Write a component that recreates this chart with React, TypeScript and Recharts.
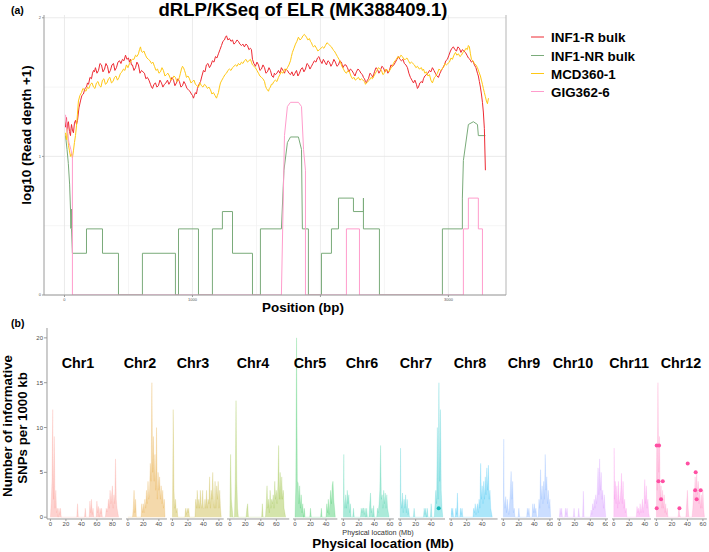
import React from "react";
import {
  LineChart,
  Line,
  XAxis,
  YAxis,
  CartesianGrid,
  ReferenceLine,
  ComposedChart,
  Area,
  Scatter,
} from "recharts";

// ---------------- Panel (a) data: [position bp, log10(depth+1)] ----------------
const infR: number[][] = [
  [8,1.21],[12,1.25],[16,1.28],[20,1.2],[23,1.17],[27,1.24],[31,1.25],[39,1.18],[47,1.15],[51,1.2],[55,1.23],[62,1.19],[70,1.17],[78,1.24],[86,1.26],[94,1.23],[102,1.26],[113,1.35],[125,1.4],[136,1.44],[148,1.45],[160,1.49],[172,1.5],[180,1.53],[188,1.52],[199,1.57],[211,1.56],[219,1.6],[227,1.62],[234,1.61],[242,1.64],[254,1.6],[266,1.62],[277,1.67],[289,1.66],[301,1.61],[313,1.63],[324,1.67],[336,1.65],[347,1.6],[359,1.62],[371,1.66],[383,1.67],[394,1.62],[406,1.64],[418,1.68],[430,1.69],[441,1.67],[453,1.7],[465,1.69],[477,1.73],[488,1.7],[500,1.71],[508,1.68],[516,1.7],[523,1.66],[531,1.66],[543,1.62],[555,1.64],[566,1.68],[578,1.66],[590,1.6],[602,1.62],[613,1.61],[625,1.6],[636,1.56],[648,1.57],[660,1.55],[672,1.52],[680,1.5],[688,1.49],[699,1.52],[711,1.53],[722,1.5],[734,1.51],[746,1.55],[758,1.53],[769,1.5],[781,1.52],[793,1.53],[805,1.55],[816,1.52],[828,1.54],[840,1.57],[852,1.55],[863,1.51],[875,1.53],[887,1.56],[898,1.54],[910,1.5],[922,1.51],[933,1.54],[945,1.52],[957,1.49],[969,1.48],[980,1.47],[992,1.45],[1000,1.44],[1008,1.42],[1015,1.44],[1023,1.46],[1031,1.45],[1039,1.49],[1051,1.52],[1063,1.54],[1074,1.58],[1086,1.62],[1098,1.61],[1109,1.66],[1121,1.67],[1133,1.64],[1145,1.66],[1156,1.69],[1168,1.68],[1180,1.72],[1191,1.71],[1203,1.74],[1215,1.77],[1227,1.8],[1238,1.83],[1250,1.84],[1258,1.86],[1266,1.87],[1277,1.84],[1289,1.85],[1301,1.83],[1313,1.84],[1324,1.81],[1336,1.82],[1348,1.84],[1359,1.83],[1371,1.81],[1383,1.8],[1394,1.81],[1406,1.79],[1418,1.81],[1430,1.8],[1441,1.77],[1453,1.78],[1461,1.77],[1469,1.7],[1480,1.67],[1492,1.65],[1504,1.68],[1516,1.66],[1527,1.62],[1539,1.63],[1551,1.66],[1563,1.64],[1574,1.6],[1586,1.61],[1598,1.64],[1609,1.62],[1621,1.58],[1633,1.57],[1640,1.6],[1648,1.59],[1660,1.6],[1672,1.62],[1683,1.6],[1695,1.64],[1707,1.62],[1719,1.6],[1730,1.63],[1742,1.62],[1754,1.6],[1766,1.59],[1777,1.61],[1789,1.58],[1801,1.6],[1813,1.62],[1824,1.58],[1836,1.6],[1848,1.63],[1859,1.64],[1871,1.61],[1883,1.63],[1895,1.67],[1906,1.66],[1918,1.63],[1930,1.65],[1941,1.67],[1953,1.69],[1965,1.68],[1977,1.71],[1988,1.72],[2000,1.69],[2012,1.67],[2023,1.7],[2035,1.68],[2047,1.66],[2059,1.69],[2070,1.68],[2082,1.65],[2094,1.67],[2105,1.7],[2117,1.68],[2129,1.65],[2141,1.66],[2152,1.69],[2164,1.68],[2176,1.64],[2188,1.66],[2199,1.66],[2211,1.64],[2223,1.61],[2234,1.63],[2246,1.62],[2258,1.6],[2270,1.58],[2281,1.61],[2293,1.63],[2305,1.62],[2316,1.6],[2328,1.59],[2336,1.57],[2344,1.56],[2352,1.54],[2359,1.53],[2367,1.55],[2375,1.56],[2387,1.6],[2398,1.59],[2410,1.57],[2422,1.61],[2434,1.64],[2445,1.63],[2457,1.6],[2469,1.62],[2480,1.65],[2492,1.64],[2504,1.61],[2516,1.63],[2527,1.6],[2539,1.62],[2551,1.66],[2563,1.65],[2574,1.66],[2586,1.68],[2598,1.7],[2609,1.72],[2621,1.7],[2633,1.69],[2645,1.7],[2656,1.67],[2668,1.66],[2680,1.64],[2691,1.6],[2703,1.57],[2715,1.55],[2727,1.53],[2738,1.55],[2750,1.52],[2758,1.49],[2766,1.5],[2777,1.53],[2789,1.54],[2797,1.53],[2805,1.56],[2816,1.58],[2828,1.59],[2840,1.6],[2852,1.62],[2863,1.61],[2875,1.64],[2887,1.62],[2898,1.6],[2910,1.58],[2922,1.57],[2934,1.6],[2945,1.62],[2957,1.64],[2969,1.66],[2980,1.69],[2992,1.7],[3004,1.73],[3016,1.76],[3027,1.78],[3039,1.79],[3051,1.77],[3063,1.76],[3074,1.79],[3086,1.78],[3098,1.75],[3109,1.77],[3121,1.76],[3133,1.75],[3145,1.73],[3156,1.71],[3168,1.7],[3180,1.68],[3191,1.69],[3203,1.66],[3215,1.64],[3227,1.6],[3234,1.58],[3242,1.54],[3250,1.5],[3258,1.45],[3266,1.39],[3273,1.32],[3281,1.2],[3289,0.9],
];

const infNR: number[][] = [
  [8, 1.15], [20, 1.05], [30, 0.95], [40, 0.8], [47, 0.62], [50, 0.48], [55, 0.62], [55, 0.48], [62, 0.301],
  [172, 0.301], [172, 0.477], [297, 0.477], [297, 0.301], [422, 0.301], [422, 0], [609, 0], [609, 0.301],
  [867, 0.301], [867, 0], [891, 0], [891, 0.477], [1047, 0.477], [1047, 0], [1156, 0], [1156, 0.477],
  [1234, 0.477], [1234, 0.602], [1313, 0.602], [1313, 0.301], [1469, 0.301], [1469, 0], [1531, 0],
  [1531, 0.477], [1695, 0.477], [1715, 0.9], [1742, 1.1], [1766, 1.14], [1828, 1.14], [1852, 1.05],
  [1859, 0.477], [1906, 0.477], [1906, 0], [2008, 0], [2008, 0.301], [2086, 0.301], [2086, 0.477],
  [2141, 0.477], [2141, 0.699], [2258, 0.699], [2258, 0.602], [2336, 0.602], [2336, 0.699], [2336, 0.477],
  [2461, 0.477], [2461, 0], [2953, 0], [2953, 0.477], [3109, 0.477], [3109, 0.699], [3117, 0.97],
  [3156, 1.23], [3195, 1.25], [3227, 1.23], [3234, 1.15], [3289, 1.15],
];

const mcd: number[][] = [
  [8,1.17],[12,1.14],[16,1.12],[20,1.17],[23,1.2],[27,1.13],[31,1.08],[39,1.04],[47,1.0],[55,1.02],[62,0.99],[70,1.04],[78,1.1],[86,1.15],[94,1.22],[101,1.3],[109,1.4],[121,1.44],[133,1.46],[144,1.49],[156,1.48],[168,1.47],[180,1.5],[191,1.49],[203,1.52],[215,1.53],[227,1.5],[238,1.49],[250,1.53],[262,1.54],[273,1.51],[285,1.5],[297,1.55],[308,1.56],[320,1.52],[332,1.53],[344,1.56],[355,1.57],[367,1.53],[379,1.54],[391,1.57],[402,1.58],[414,1.55],[426,1.57],[438,1.6],[449,1.61],[461,1.63],[472,1.62],[484,1.66],[496,1.64],[508,1.67],[519,1.69],[531,1.7],[543,1.7],[555,1.73],[566,1.72],[578,1.74],[586,1.77],[594,1.79],[601,1.76],[609,1.75],[621,1.76],[633,1.73],[644,1.71],[656,1.7],[668,1.69],[680,1.67],[691,1.68],[703,1.65],[715,1.62],[727,1.63],[738,1.6],[750,1.61],[762,1.64],[773,1.62],[785,1.58],[797,1.59],[808,1.6],[820,1.58],[832,1.55],[844,1.56],[855,1.58],[867,1.57],[879,1.54],[891,1.55],[898,1.57],[906,1.6],[914,1.63],[922,1.65],[930,1.64],[938,1.62],[945,1.6],[953,1.57],[965,1.58],[977,1.56],[988,1.53],[1000,1.54],[1012,1.55],[1023,1.52],[1035,1.51],[1047,1.5],[1059,1.53],[1070,1.51],[1082,1.5],[1094,1.52],[1105,1.51],[1117,1.49],[1129,1.5],[1141,1.48],[1152,1.45],[1164,1.46],[1176,1.44],[1188,1.42],[1195,1.44],[1203,1.46],[1211,1.5],[1219,1.53],[1230,1.55],[1242,1.57],[1254,1.59],[1266,1.6],[1277,1.62],[1289,1.63],[1301,1.62],[1313,1.64],[1324,1.65],[1336,1.66],[1348,1.65],[1359,1.67],[1371,1.66],[1383,1.68],[1394,1.67],[1406,1.69],[1418,1.7],[1430,1.68],[1441,1.69],[1453,1.7],[1461,1.68],[1469,1.66],[1480,1.65],[1492,1.64],[1504,1.62],[1516,1.6],[1527,1.58],[1539,1.57],[1551,1.56],[1563,1.54],[1570,1.51],[1578,1.49],[1586,1.48],[1594,1.47],[1601,1.49],[1609,1.5],[1617,1.52],[1625,1.52],[1636,1.54],[1648,1.55],[1660,1.54],[1672,1.57],[1683,1.59],[1695,1.61],[1707,1.6],[1719,1.63],[1730,1.62],[1742,1.64],[1754,1.66],[1766,1.69],[1773,1.72],[1781,1.75],[1793,1.78],[1805,1.81],[1816,1.83],[1828,1.86],[1840,1.84],[1852,1.85],[1863,1.87],[1875,1.88],[1883,1.87],[1891,1.86],[1902,1.84],[1914,1.85],[1922,1.83],[1930,1.82],[1938,1.8],[1945,1.79],[1957,1.8],[1969,1.78],[1980,1.76],[1992,1.77],[2004,1.78],[2016,1.79],[2027,1.78],[2039,1.8],[2051,1.82],[2063,1.81],[2074,1.8],[2086,1.79],[2098,1.77],[2109,1.76],[2121,1.74],[2133,1.72],[2145,1.7],[2156,1.68],[2168,1.65],[2180,1.63],[2191,1.61],[2203,1.6],[2215,1.62],[2227,1.61],[2238,1.58],[2250,1.56],[2262,1.57],[2273,1.55],[2285,1.56],[2297,1.57],[2309,1.55],[2320,1.56],[2332,1.55],[2344,1.54],[2352,1.52],[2359,1.53],[2371,1.54],[2383,1.55],[2395,1.57],[2406,1.56],[2418,1.58],[2430,1.6],[2441,1.62],[2453,1.64],[2465,1.63],[2477,1.62],[2488,1.59],[2500,1.6],[2512,1.63],[2523,1.62],[2535,1.61],[2547,1.63],[2559,1.65],[2570,1.67],[2582,1.69],[2594,1.7],[2605,1.72],[2617,1.71],[2629,1.73],[2641,1.72],[2652,1.7],[2664,1.7],[2676,1.71],[2688,1.69],[2699,1.67],[2711,1.68],[2723,1.67],[2734,1.66],[2746,1.64],[2758,1.65],[2773,1.63],[2789,1.64],[2797,1.62],[2805,1.63],[2816,1.6],[2828,1.61],[2840,1.58],[2852,1.59],[2863,1.55],[2875,1.53],[2883,1.55],[2891,1.57],[2902,1.58],[2914,1.6],[2926,1.63],[2938,1.62],[2949,1.63],[2961,1.64],[2973,1.67],[2984,1.66],[2996,1.67],[3008,1.68],[3020,1.71],[3031,1.7],[3043,1.73],[3055,1.75],[3066,1.73],[3078,1.74],[3090,1.72],[3102,1.73],[3113,1.75],[3125,1.76],[3137,1.78],[3148,1.77],[3156,1.8],[3164,1.79],[3172,1.74],[3180,1.7],[3191,1.69],[3203,1.67],[3215,1.66],[3227,1.64],[3238,1.61],[3250,1.58],[3258,1.55],[3266,1.52],[3273,1.49],[3281,1.46],[3289,1.43],[3297,1.4],[3305,1.38],[3313,1.42],
];

const gig: number[][] = [
  [8, 1.3], [20, 1.2], [35, 1.1], [50, 1.05], [62, 1.0], [62, 0], [1695, 0], [1719, 1.15], [1742, 1.36],
  [1766, 1.39], [1828, 1.39], [1852, 1.36], [1868, 1.05], [1883, 0.9], [1883, 0], [2203, 0], [2203, 0.477],
  [2305, 0.477], [2305, 0], [3117, 0], [3117, 0.477], [3156, 0.477], [3156, 0.699], [3234, 0.699],
  [3234, 0.477], [3266, 0.477], [3266, 0],
];

const seriesNames = ["INF1-R bulk", "INF1-NR bulk", "MCD360-1", "GIG362-6"];
const seriesColors = ["#ee2a33", "#7aab7a", "#ffc814", "#ff9ccc"];
const seriesData = [infR, infNR, mcd, gig];
const drawOrder = [1, 0, 2, 3];

const posTicks = [0, 1000, 2000, 3000];
const posMinor = [500, 1500, 2500];
const depthTicks = [0, 1, 2];
const depthMinor = [0.5, 1.5];

// ---------------- Panel (b) data: [Mb, SNPs per 1000 kb] ----------------
const chrNames = ["Chr1", "Chr2", "Chr3", "Chr4", "Chr5", "Chr6", "Chr7", "Chr8", "Chr9", "Chr10", "Chr11", "Chr12"];
const chrLengths = [88, 48, 63, 73, 52, 62, 56, 57, 61, 60, 46, 62];
const chrColors = ["#F8766D", "#DE8C00", "#B79F00", "#7CAE00", "#00BA38", "#00C08B", "#00BFC4", "#00B4F0", "#619CFF", "#C77CFF", "#F564E3", "#FF64B0"];
const chrLabelX = [78, 140, 193, 253, 310, 362, 416, 470, 524, 573, 629, 681];

const chr1: number[][] = [[0, 0], [1, 1.5], [2, 4], [3, 12], [4, 2], [5, 9], [6, 1], [7, 3], [8, 0.5], [9, 1], [10, 0], [11, 1], [12, 0.3], [13, 1], [14, 0], [34, 0], [35, 1.5], [36, 0], [44, 0], [45, 1], [46, 0], [50, 0], [51, 1.8], [52, 0.5], [53, 2], [54, 0.3], [55, 1], [56, 0], [59, 0], [60, 1.8], [61, 0.5], [62, 1.2], [63, 0], [64, 1], [65, 0.4], [66, 1], [67, 0], [71, 0], [72, 1], [73, 0.6], [74, 1], [75, 2], [76, 1], [77, 3], [78, 1.5], [79, 2.5], [80, 3.5], [81, 1], [82, 2.5], [83, 1.5], [84, 6.5], [85, 2], [86, 1], [87, 0.5], [88, 0]];
const chr2: number[][] = [[0, 0], [6, 0], [7, 1], [8, 3], [9, 0.5], [10, 2], [11, 0], [17, 0], [18, 1.5], [19, 0.5], [20, 1.5], [21, 0.5], [22, 2], [23, 1], [24, 3], [25, 1.5], [26, 4], [27, 2], [28, 3], [29, 6], [30, 4], [31, 15], [32, 5], [33, 9], [34, 4], [35, 7], [36, 3], [37, 10], [38, 2], [39, 5], [40, 3], [41, 4.5], [42, 2], [43, 3.5], [44, 1.5], [45, 3], [46, 1], [47, 2], [48, 0]];
const chr3: number[][] = [[0, 0], [1, 12], [2, 3], [3, 1], [4, 2], [5, 0.5], [6, 1], [7, 0], [16, 0], [17, 1], [18, 0.3], [19, 1], [20, 0.5], [21, 1], [22, 0], [29, 0], [30, 2], [31, 1], [32, 3], [33, 1], [34, 2], [35, 1], [36, 3], [37, 1.5], [38, 1], [39, 3], [40, 1], [41, 1], [42, 2], [43, 1], [44, 3], [45, 1], [46, 2], [47, 1.5], [48, 4.5], [49, 1], [50, 3], [51, 2], [52, 5], [53, 2], [54, 1], [55, 4], [56, 1], [57, 3.5], [58, 2], [59, 4], [60, 1], [61, 3], [62, 1], [63, 0]];
const chr4: number[][] = [[0, 0], [1, 7], [2, 2], [3, 1], [4, 0], [6, 0], [7, 4], [8, 13], [9, 4], [10, 1], [11, 0], [21, 0], [22, 1], [23, 1.5], [24, 0], [41, 0], [42, 1.5], [43, 0], [46, 0], [47, 1.5], [48, 3.5], [49, 1], [50, 2], [51, 0.5], [52, 3], [53, 1], [54, 2], [55, 1.5], [56, 2.5], [57, 1], [58, 4], [59, 2], [60, 3], [61, 1.5], [62, 3.5], [63, 8], [64, 2], [65, 5], [66, 2], [67, 4.5], [68, 2], [69, 3], [70, 1], [71, 0.5], [72, 0]];
const chr5: number[][] = [[0, 0], [1, 3.5], [2, 20], [3, 4], [4, 3.8], [5, 1.5], [6, 3.5], [7, 1], [8, 2.5], [9, 0.5], [10, 1.5], [11, 0], [12, 1], [13, 0], [19, 0], [20, 1], [21, 0], [33, 0], [34, 1], [35, 0], [40, 0], [41, 1.5], [42, 0.5], [43, 2], [44, 0.3], [45, 1.5], [46, 3], [47, 1.5], [48, 3.5], [49, 4], [50, 2], [51, 1], [52, 0]];
const chr6: number[][] = [[0, 0], [0.5, 7], [1, 2], [2, 1], [3, 2.5], [4, 1], [5, 3], [6, 1.5], [7, 2.5], [8, 0.5], [9, 1.5], [10, 0], [12, 0], [13, 1], [14, 0], [22, 0], [23, 1], [24, 0.5], [25, 1], [26, 1], [27, 0.3], [28, 1], [29, 0], [30, 1], [31, 0], [33, 0], [34, 1.5], [35, 2.7], [36, 0.5], [37, 1], [38, 0], [39, 1.3], [40, 0], [43, 0], [44, 1], [45, 0.5], [46, 1.5], [47, 3], [48, 8], [49, 2], [50, 2.5], [51, 1], [52, 3], [53, 1.5], [54, 2.7], [55, 1], [56, 2.5], [57, 1], [58, 0.5], [59, 0]];
const chr7: number[][] = [[0, 0], [0.5, 7.7], [1, 2], [2, 1], [3, 2.7], [4, 0.5], [5, 2], [6, 1], [7, 2.5], [8, 0.5], [9, 2], [10, 0.3], [11, 1], [12, 0], [17, 0], [18, 1], [19, 0], [30, 0], [31, 1], [32, 0.3], [33, 1], [34, 0], [35, 1], [36, 0], [39, 0], [40, 1.5], [41, 0], [44, 0], [45, 1.5], [46, 3], [47, 1.5], [48, 10], [49, 2], [50, 15], [51, 4], [52, 12], [53, 3], [54, 1], [55, 0]];
const chr8: number[][] = [[0, 0], [0.5, 1], [1, 0.3], [2, 1], [3, 0], [5, 0], [6, 1], [7, 0.3], [8, 2.7], [9, 0], [11, 0], [12, 1], [13, 0.3], [14, 1], [15, 0], [28, 0], [29, 1], [30, 0.5], [31, 1.5], [32, 0.3], [33, 1], [34, 1.5], [35, 0.5], [36, 2], [37, 1], [38, 6], [39, 2], [40, 3.5], [41, 1.5], [42, 4], [43, 2], [44, 4.5], [45, 2.5], [46, 5.5], [47, 3], [48, 5.8], [49, 2], [50, 3], [51, 1], [52, 0.5], [53, 0]];
const chr9: number[][] = [[0, 0], [0.5, 8.7], [1, 2], [2, 1], [3, 2.3], [4, 0.5], [5, 2], [6, 1], [7, 0.3], [8, 1.5], [9, 3], [10, 5.1], [11, 2], [12, 4], [13, 0.5], [14, 1], [15, 0], [19, 0], [20, 1], [21, 0], [30, 0], [31, 1], [32, 0.3], [33, 1], [34, 0], [37, 0], [38, 1.5], [39, 0.5], [40, 1.5], [41, 0.5], [42, 1], [43, 0], [45, 0], [46, 2], [47, 1], [48, 5.3], [49, 2], [50, 3.5], [51, 1.5], [52, 4], [53, 2], [54, 7], [55, 3], [56, 4.5], [57, 1.5], [58, 3], [59, 1], [60, 2], [61, 0]];
const chr10: number[][] = [[0, 0], [1, 1], [2, 0.3], [3, 1], [4, 0], [7, 0], [8, 1], [9, 0.3], [10, 1], [11, 0], [18, 0], [19, 1], [20, 0], [24, 0], [25, 1], [26, 0], [30, 0], [31, 2.9], [32, 0], [40, 0], [41, 0.8], [42, 0.3], [43, 1.5], [44, 0.8], [45, 2], [46, 1], [47, 2.5], [48, 1.5], [49, 3], [50, 5.5], [51, 2.5], [52, 6.5], [53, 3], [54, 5], [55, 2], [56, 3], [57, 1], [58, 2.5], [59, 1], [60, 0]];
const chr11: number[][] = [[0, 0], [0.5, 7.7], [1, 2], [2, 4], [3, 1.5], [4, 3.5], [5, 1], [6, 4], [7, 1.5], [8, 2], [9, 3], [10, 4.9], [11, 1.5], [12, 4], [13, 1], [14, 2], [15, 0.5], [16, 1], [17, 0], [29, 0], [30, 1.2], [31, 0.5], [32, 1], [33, 0.3], [34, 1.5], [35, 0.5], [36, 1], [37, 2], [38, 0.5], [39, 1.5], [40, 4.2], [41, 1.5], [42, 3.5], [43, 1], [44, 2], [45, 0.5], [46, 0]];
const chr12: number[][] = [[0, 0], [0.5, 8], [1, 3], [2, 15], [3, 5], [4, 9], [5, 2], [6, 3.5], [7, 1], [8, 3], [9, 1], [10, 2.5], [11, 0.5], [12, 1.5], [13, 0.3], [14, 1], [15, 0], [28, 0], [29, 1], [30, 0.3], [31, 0], [38, 0], [39, 1.5], [40, 3], [41, 1], [42, 0], [46, 0], [47, 1], [48, 3], [49, 2], [50, 4.5], [51, 2], [52, 5], [53, 2.5], [54, 4], [55, 1.5], [56, 3], [57, 1], [58, 2.5], [59, 1], [60, 3], [61, 1], [62, 0]];
const chrDensity = [chr1, chr2, chr3, chr4, chr5, chr6, chr7, chr8, chr9, chr10, chr11, chr12];

// highlighted markers: [Mb, value]
const chr7Dots: number[][] = [[49.7, 1]];
const chr12Dots: number[][] = [[0.4, 8], [3.4, 8], [2.6, 4], [8.2, 4], [6, 2], [0.4, 1], [29.7, 1], [40.4, 6], [50.7, 5], [50, 3], [57.2, 3], [52, 2]];
const chrDots: (number[][] | null)[] = [null, null, null, null, null, null, chr7Dots, null, null, null, null, chr12Dots];

const snpTicks = [0, 5, 10, 15, 20];
const mbTicks = [0, 20, 40, 60, 80];

// ---------------- layout ----------------
const FONT = '"Liberation Sans", Arial, Helvetica, sans-serif';
const PX_PER_MB = 0.775;
const GAP = 3.6;
const B_LEFT = 47;
const B_TOP = 328;
const B_PLOT_H = 191;
const B_XAXIS_H = 14;

const toPts = (arr: number[][]) => arr.map(([bp, v]) => ({ bp, v }));
const toMb = (arr: number[][]) => arr.map(([mb, v]) => ({ mb, v }));

function TopPanel() {
  return (
    <div style={{ position: "absolute", left: 0, top: 0 }}>
      <LineChart width={520} height={310} margin={{ top: 15, right: 14, bottom: 0, left: 4 }}>
        <CartesianGrid
          horizontalValues={depthMinor}
          verticalValues={posMinor}
          stroke="#f3f3f3"
          strokeWidth={0.8}
          fill="none"
        />
        <CartesianGrid
          horizontalValues={depthTicks}
          verticalValues={posTicks}
          stroke="#e6e6e6"
          strokeWidth={0.8}
          fill="none"
        />
        <XAxis
          type="number"
          dataKey="bp"
          domain={[-160, 3450]}
          allowDataOverflow
          ticks={posTicks}
          interval={0}
          height={15}
          tickSize={2}
          tickMargin={1}
          tickFormatter={(v: number) => (v === 2000 ? "" : String(v))}
          tick={{ fontSize: 4, fill: "#555", fontFamily: FONT }}
          axisLine={{ stroke: "#9a9a9a" }}
          tickLine={{ stroke: "#9a9a9a" }}
        />
        <YAxis
          type="number"
          dataKey="v"
          domain={[0, 2.02]}
          allowDataOverflow
          ticks={depthTicks}
          interval={0}
          width={40}
          tickSize={2}
          tickMargin={1}
          tick={{ fontSize: 4, fill: "#555", fontFamily: FONT }}
          axisLine={{ stroke: "#9a9a9a" }}
          tickLine={{ stroke: "#9a9a9a" }}
        />
        <ReferenceLine x={3450} stroke="#b5b5b5" strokeWidth={1} />
        {drawOrder.map((i) => (
          <Line
            key={seriesNames[i]}
            data={toPts(seriesData[i])}
            dataKey="v"
            type="linear"
            stroke={seriesColors[i]}
            strokeWidth={1}
            dot={false}
            activeDot={false}
            isAnimationActive={false}
          />
        ))}
      </LineChart>
    </div>
  );
}

function BottomPanel() {
  let x = B_LEFT;
  const facets = chrNames.map((name, i) => {
    const len = chrLengths[i];
    const w = len * 1.1 * PX_PER_MB;
    const x0 = x;
    x += w + GAP;
    const first = i === 0;
    const dots = chrDots[i];
    return (
      <div key={name} style={{ position: "absolute", left: first ? 0 : x0, top: B_TOP }}>
        <ComposedChart
          width={(first ? B_LEFT : 0) + w}
          height={B_PLOT_H + B_XAXIS_H}
          margin={{ top: 0, right: 0, bottom: 0, left: 0 }}
          data={toMb(chrDensity[i])}
        >
          <XAxis
            type="number"
            dataKey="mb"
            domain={[-0.05 * len, 1.05 * len]}
            allowDataOverflow
            ticks={mbTicks.filter((t) => t <= len + 1)}
            interval={0}
            height={B_XAXIS_H}
            tickSize={2}
            tickMargin={1}
            tick={{ fontSize: 6, fill: "#4d4d4d", fontFamily: FONT }}
            axisLine={{ stroke: "#9a9a9a" }}
            tickLine={{ stroke: "#9a9a9a" }}
          />
          <YAxis
            type="number"
            domain={[-0.2, 21.1]}
            allowDataOverflow
            ticks={snpTicks}
            interval={0}
            width={B_LEFT}
            hide={!first}
            tickSize={3}
            tickMargin={1}
            tick={{ fontSize: 6, fill: "#4d4d4d", fontFamily: FONT }}
            axisLine={{ stroke: "#9a9a9a" }}
            tickLine={{ stroke: "#9a9a9a" }}
          />
          <Area
            dataKey="v"
            type="linear"
            fill={chrColors[i]}
            fillOpacity={0.33}
            stroke={chrColors[i]}
            strokeOpacity={0.25}
            strokeWidth={0.6}
            dot={false}
            activeDot={false}
            isAnimationActive={false}
          />
          {dots && (
            <Scatter
              data={toMb(dots)}
              dataKey="v"
              fill={chrColors[i]}
              isAnimationActive={false}
              shape={(p: any) => <circle cx={p.cx} cy={p.cy} r={2} fill={i === 11 ? "#ff4fa3" : "#12b8b8"} />}
            />
          )}
        </ComposedChart>
      </div>
    );
  });
  return <>{facets}</>;
}

function TextOverlay() {
  const legendRows = [37, 55.5, 73.5, 91.5];
  return (
    <svg
      width={709}
      height={552}
      style={{ position: "absolute", left: 0, top: 0, pointerEvents: "none" }}
      fontFamily={FONT}
    >
      <text x={11} y={14} fontSize={10.5} fontWeight="bold">(a)</text>
      <text x={303} y={15.5} fontSize={18.5} fontWeight="bold" textAnchor="middle">
        dRLP/KSeq of ELR (MK388409.1)
      </text>
      <text
        x={30.5}
        y={135}
        fontSize={13.4}
        fontWeight="bold"
        textAnchor="middle"
        transform="rotate(-90 30.5 135)"
      >
        log10 (Read depth +1)
      </text>
      <text x={303} y={311.5} fontSize={13.4} fontWeight="bold" textAnchor="middle">
        Position (bp)
      </text>
      {seriesNames.map((n, i) => (
        <g key={n}>
          <line x1={531} x2={544} y1={legendRows[i]} y2={legendRows[i]} stroke={seriesColors[i]} strokeWidth={1} />
          <text x={551} y={legendRows[i] + 5} fontSize={13.4} fontWeight="bold">
            {n}
          </text>
        </g>
      ))}

      <text x={11} y={327} fontSize={10.5} fontWeight="bold">(b)</text>
      {chrNames.map((n, i) => (
        <text key={n} x={chrLabelX[i]} y={368} fontSize={14.3} fontWeight="bold" textAnchor="middle">
          {n}
        </text>
      ))}
      <text x={11.5} y={426} fontSize={13.3} fontWeight="bold" textAnchor="middle" transform="rotate(-90 11.5 426)">
        Number of informative
      </text>
      <text x={27} y={428} fontSize={13.3} fontWeight="bold" textAnchor="middle" transform="rotate(-90 27 428)">
        SNPs per 1000 kb
      </text>
      <text x={378} y={535} fontSize={7.3} fill="#333" textAnchor="middle">
        Physical location (Mb)
      </text>
      <text x={383} y={548} fontSize={13.4} fontWeight="bold" textAnchor="middle">
        Physical location (Mb)
      </text>
    </svg>
  );
}

export default function App() {
  return (
    <div
      style={{
        position: "absolute",
        left: 0,
        top: 0,
        width: 709,
        height: 552,
        background: "#fff",
        fontFamily: FONT,
        overflow: "hidden",
      }}
    >
      <TopPanel />
      <BottomPanel />
      <TextOverlay />
    </div>
  );
}
